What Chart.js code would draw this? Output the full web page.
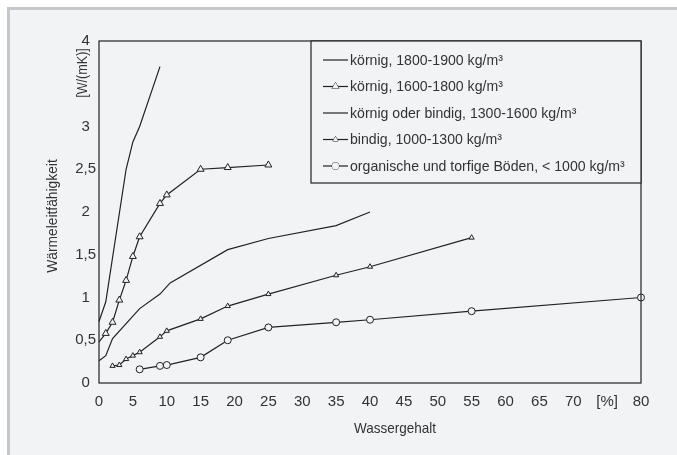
<!DOCTYPE html>
<html>
<head>
<meta charset="utf-8">
<script src="https://cdn.jsdelivr.net/npm/chart.js@4.4.1/dist/chart.umd.min.js"></script>
<style>
  html, body { margin: 0; padding: 0; background: #fff; overflow: hidden; }
  canvas { display: block; }
</style>
</head>
<body>
<canvas id="chart" width="677" height="455"></canvas>
<script>
// Wärmeleitfähigkeit [W/(mK)] over Wassergehalt [%]
const seriesLabels = [
  'körnig, 1800-1900 kg/m³',
  'körnig, 1600-1800 kg/m³',
  'körnig oder bindig, 1300-1600 kg/m³',
  'bindig, 1000-1300 kg/m³',
  'organische und torfige Böden, < 1000 kg/m³'
];

const water1 = [0, 1, 4, 5, 6, 9];
const lambda1 = [0.72, 0.95, 2.5, 2.82, 3.0, 3.7];

const water2 = [0, 1, 2, 3, 4, 5, 6, 9, 10, 15, 19, 25];
const lambda2 = [0.48, 0.58, 0.71, 0.97, 1.2, 1.48, 1.71, 2.1, 2.2, 2.5, 2.52, 2.55];

const water3 = [0, 1, 2, 6, 9, 10.5, 19, 25, 35, 40];
const lambda3 = [0.26, 0.32, 0.52, 0.87, 1.04, 1.17, 1.56, 1.69, 1.84, 2.0];

const water4 = [2, 3, 4, 5, 6, 9, 10, 15, 19, 25, 35, 40, 55];
const lambda4 = [0.2, 0.21, 0.28, 0.32, 0.36, 0.54, 0.61, 0.75, 0.9, 1.04, 1.26, 1.36, 1.7];

const water5 = [6, 9, 10, 15, 19, 25, 35, 40, 55, 80];
const lambda5 = [0.16, 0.2, 0.21, 0.3, 0.5, 0.65, 0.71, 0.74, 0.84, 1.0];

const xTicks = [0, 5, 10, 15, 20, 25, 30, 35, 40, 45, 50, 55, 60, 65, 70, 75, 80];
const xTickLabels = ['0', '5', '10', '15', '20', '25', '30', '35', '40', '45', '50', '55', '60', '65', '70', '[%]', '80'];
const yTickLabels = ['0', '0,5', '1', '1,5', '2', '2,5', '3', '', '4'];

const FONT = "'Liberation Sans', Arial, sans-serif";
const INK = '#222';
const TEXT = '#333';
const PAPER = '#f2f3f5';

function pts(xs, ys) {
  return xs.map((x, i) => ({ x: x, y: ys[i] }));
}

const styles = [
  { pointStyle: false, radius: 0 },
  { pointStyle: 'triangle', radius: 4 },
  { pointStyle: false, radius: 0 },
  { pointStyle: 'triangle', radius: 3 },
  { pointStyle: 'circle', radius: 3.5 }
];

const allData = [
  pts(water1, lambda1), pts(water2, lambda2), pts(water3, lambda3),
  pts(water4, lambda4), pts(water5, lambda5)
];

const datasets = allData.map((d, i) => ({
  label: seriesLabels[i],
  data: d,
  borderColor: INK,
  borderWidth: 1.2,
  backgroundColor: PAPER,
  pointStyle: styles[i].pointStyle,
  // no marker at x = 0 for the second series (hidden by the axis)
  pointRadius: i === 1 ? d.map(p => p.x === 0 ? 0 : styles[i].radius) : styles[i].radius,
  pointBorderWidth: 1,
  pointBorderColor: INK,
  pointBackgroundColor: PAPER,
  tension: 0,
  clip: 6
}));

// narrow text: regular font squeezed horizontally
function narrowText(ctx, str, x, y, sx, rot) {
  ctx.save();
  ctx.translate(x, y);
  if (rot) ctx.rotate(rot);
  ctx.scale(sx, 1);
  ctx.fillText(str, 0, 0);
  ctx.restore();
}

const framePlugin = {
  id: 'frame',
  beforeDraw(chart) {
    const ctx = chart.ctx;
    ctx.save();
    ctx.fillStyle = '#fff';
    ctx.fillRect(0, 0, chart.width, chart.height);
    ctx.fillStyle = '#c6c7ca';
    ctx.fillRect(7, 7, chart.width - 7, chart.height - 7);
    ctx.fillStyle = PAPER;
    ctx.fillRect(10, 10, chart.width - 10, chart.height - 10);
    ctx.restore();
  },
  afterDatasetsDraw(chart) {
    const ctx = chart.ctx;
    const a = chart.chartArea;
    ctx.save();
    ctx.strokeStyle = INK;
    ctx.lineWidth = 1.2;
    ctx.strokeRect(a.left, a.top, a.right - a.left, a.bottom - a.top);

    // legend box in the upper right corner of the plot
    const boxLeft = 311, boxBottom = 183;
    ctx.fillStyle = PAPER;
    ctx.fillRect(boxLeft, a.top, a.right - boxLeft, boxBottom - a.top);
    ctx.strokeRect(boxLeft, a.top, a.right - boxLeft, boxBottom - a.top);

    ctx.font = '15px ' + FONT;
    ctx.textBaseline = 'middle';
    ctx.textAlign = 'left';
    chart.data.datasets.forEach((ds, i) => {
      const y = 60 + i * 26.5;
      ctx.strokeStyle = INK;
      ctx.lineWidth = 1.2;
      ctx.beginPath();
      ctx.moveTo(323, y);
      ctx.lineTo(348, y);
      ctx.stroke();
      if (styles[i].pointStyle) {
        ctx.fillStyle = PAPER;
        ctx.lineWidth = 1;
        Chart.helpers.drawPoint(ctx, {
          pointStyle: styles[i].pointStyle,
          radius: styles[i].radius,
          borderWidth: 1
        }, 335.5, y);
        ctx.fill();
      }
      ctx.fillStyle = TEXT;
      narrowText(ctx, ds.label, 350, y + 0.5, 0.94);
    });
    ctx.restore();
  },
  afterDraw(chart) {
    const ctx = chart.ctx;
    ctx.save();
    ctx.fillStyle = TEXT;
    ctx.font = '15px ' + FONT;
    ctx.textAlign = 'center';
    ctx.textBaseline = 'middle';
    // x axis title
    narrowText(ctx, 'Wassergehalt', 395, 429, 0.9);
    // y axis title
    narrowText(ctx, 'Wärmeleitfähigkeit', 53, 216, 0.92, -Math.PI / 2);
    // unit next to the top of the y axis
    narrowText(ctx, '[W/(mK)]', 83, 73, 0.84, -Math.PI / 2);
    ctx.restore();
  }
};

new Chart(document.getElementById('chart'), {
  type: 'scatter',
  data: { datasets: datasets },
  options: {
    responsive: false,
    animation: false,
    showLine: true,
    layout: { padding: { left: 0, top: 41, right: 36, bottom: 0 } },
    plugins: {
      legend: { display: false },
      tooltip: { enabled: false }
    },
    scales: {
      x: {
        type: 'linear',
        min: 0,
        max: 80,
        afterFit: (scale) => { scale.height = 72; },
        afterBuildTicks: (scale) => { scale.ticks = xTicks.map(v => ({ value: v })); },
        grid: { display: false, drawTicks: false },
        border: { display: false },
        ticks: {
          padding: 10,
          color: TEXT,
          font: { family: FONT, size: 15 },
          maxRotation: 0,
          autoSkip: false,
          callback: (v) => xTickLabels[xTicks.indexOf(v)]
        }
      },
      y: {
        type: 'linear',
        min: 0,
        max: 4,
        afterFit: (scale) => { scale.width = 99; },
        grid: { display: false, drawTicks: false },
        border: { display: false },
        ticks: {
          stepSize: 0.5,
          padding: 3,
          crossAlign: 'center',
          color: TEXT,
          font: { family: FONT, size: 15 },
          callback: (v) => yTickLabels[Math.round(v * 2)]
        }
      }
    }
  },
  plugins: [framePlugin]
});
</script>
</body>
</html>
